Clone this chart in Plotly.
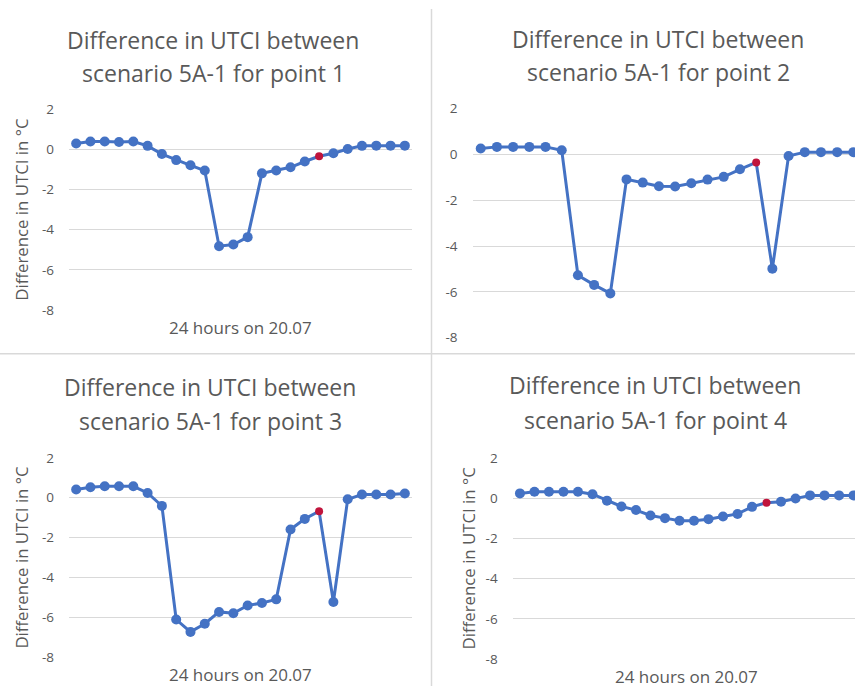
import plotly.graph_objects as go

# Hourly UTCI difference (°C) for scenario 5A-1 at four measurement points
hours = ["00", "01", "02", "03", "04", "05", "06", "07", "08", "09", "10", "11",
         "12", "13", "14", "15", "16", "17", "18", "19", "20", "21", "22", "23"]

point1 = [0.30, 0.40, 0.40, 0.37, 0.40, 0.18, -0.23, -0.53, -0.79, -1.05, -4.82, -4.74,
          -4.37, -1.19, -1.05, -0.89, -0.60, -0.34, -0.19, 0.02, 0.18, 0.19, 0.19, 0.19]
point2 = [0.26, 0.33, 0.33, 0.33, 0.33, 0.18, -5.28, -5.70, -6.07, -1.09, -1.23, -1.39,
          -1.40, -1.26, -1.10, -0.98, -0.65, -0.35, -4.99, -0.07, 0.10, 0.10, 0.10, 0.10]
point3 = [0.41, 0.52, 0.57, 0.57, 0.57, 0.24, -0.41, -6.10, -6.72, -6.31, -5.72, -5.79,
          -5.40, -5.27, -5.09, -1.59, -1.06, -0.68, -5.22, -0.08, 0.16, 0.16, 0.16, 0.21]
point4 = [0.23, 0.31, 0.31, 0.31, 0.31, 0.19, -0.13, -0.42, -0.60, -0.87, -1.00, -1.13,
          -1.13, -1.05, -0.92, -0.79, -0.44, -0.23, -0.18, -0.02, 0.13, 0.13, 0.13, 0.13]

highlight_hour = "17"
y_ticks = [2, 0, -2, -4, -6, -8]

titles = ["Difference in UTCI between", "scenario 5A-1 for point {}"]
y_title = "Difference in UTCI in °C"
x_title = "24 hours on 20.07"

W, H = 855, 695
FONT = "'Open Sans', sans-serif"
GREY = "#595959"
GRID = "#D9D9D9"
BLUE = "#4472C4"
RED = "#C0143C"


def px_x(p):
    return p / W


def px_y(p):
    return 1 - p / H


# panel geometry in pixels; xend < 23.5 means the panel is cropped at the right edge
panels = [
    dict(data=point1, l=69, r=412, t=103, b=309, xend=23.5, num=1,
         title_x=213, title_y=(31.5, 65.5), ytitle_x=22, xtitle_y=327),
    dict(data=point2, l=472.6, r=855, t=102.3, b=337.3, xend=23.1, num=2,
         title_x=658, title_y=(31, 64.5), ytitle_x=None, xtitle_y=None),
    dict(data=point3, l=69, r=412, t=460.7, b=665.7, xend=23.5, num=3,
         title_x=210, title_y=(388, 422.5), ytitle_x=22, xtitle_y=683),
    dict(data=point4, l=512.7, r=855, t=460.7, b=667.3, xend=23.1, num=4,
         title_x=655, title_y=(386.5, 421.5), ytitle_x=468, xtitle_y=685),
]

fig = go.Figure()
annotations = []
layout_axes = {}

for i, p in enumerate(panels, start=1):
    suffix = "" if i == 1 else str(i)
    colors = [RED if h == highlight_hour else BLUE for h in hours]
    sizes = [8 if h == highlight_hour else 10 for h in hours]
    fig.add_trace(go.Scatter(
        x=hours, y=p["data"], mode="lines+markers",
        line=dict(color=BLUE, width=3),
        marker=dict(color=colors, size=sizes, opacity=1, line=dict(width=0)),
        xaxis="x" + suffix, yaxis="y" + suffix, showlegend=False,
        hoverinfo="x+y",
    ))
    layout_axes["xaxis" + suffix] = dict(
        domain=[px_x(p["l"]), px_x(p["r"])], anchor="y" + suffix,
        type="category", range=[-0.5, p["xend"]],
        showticklabels=False, showgrid=False, zeroline=False, showline=False,
        ticks="", fixedrange=True,
    )
    layout_axes["yaxis" + suffix] = dict(
        domain=[px_y(p["b"]), px_y(p["t"])], anchor="x" + suffix,
        range=[-8, 2], tickvals=y_ticks, ticktext=[str(v) for v in y_ticks],
        showgrid=True, gridcolor=GRID, gridwidth=1, zeroline=False, showline=False,
        ticks="", ticklabelstandoff=14,
        tickfont=dict(family=FONT, size=13.5, color=GREY), fixedrange=True,
    )
    # two-line chart title
    for line, ty in zip(titles, p["title_y"]):
        annotations.append(dict(
            text=line.format(p["num"]), xref="paper", yref="paper",
            x=px_x(p["title_x"]), y=px_y(ty), xanchor="center", yanchor="middle",
            showarrow=False, font=dict(family=FONT, size=23, color=GREY),
        ))
    if p["ytitle_x"] is not None:
        annotations.append(dict(
            text=y_title, xref="paper", yref="paper", textangle=-90,
            x=px_x(p["ytitle_x"]), y=px_y((p["t"] + p["b"]) / 2),
            xanchor="center", yanchor="middle", showarrow=False,
            font=dict(family=FONT, size=16.8, color=GREY),
        ))
    if p["xtitle_y"] is not None:
        full_right = p["l"] + 24 * (p["r"] - p["l"]) / (p["xend"] + 0.5)
        annotations.append(dict(
            text=x_title, xref="paper", yref="paper",
            x=px_x((p["l"] + full_right) / 2),
            y=px_y(p["xtitle_y"]), xanchor="center", yanchor="middle", showarrow=False,
            font=dict(family=FONT, size=17, color=GREY),
        ))

# light dividers between the four chart panels
shapes = [
    dict(type="line", xref="paper", yref="paper", x0=px_x(431.5), x1=px_x(431.5),
         y0=0, y1=1, line=dict(color=GRID, width=1.5)),
    dict(type="line", xref="paper", yref="paper", x0=0, x1=1,
         y0=px_y(354), y1=px_y(354), line=dict(color=GRID, width=1.5)),
]

fig.update_layout(
    width=W, height=H, margin=dict(l=0, r=0, t=0, b=0),
    paper_bgcolor="white", plot_bgcolor="white",
    annotations=annotations, shapes=shapes, showlegend=False,
    **layout_axes,
)

fig.write_html("out.html", config={"displayModeBar": False})
